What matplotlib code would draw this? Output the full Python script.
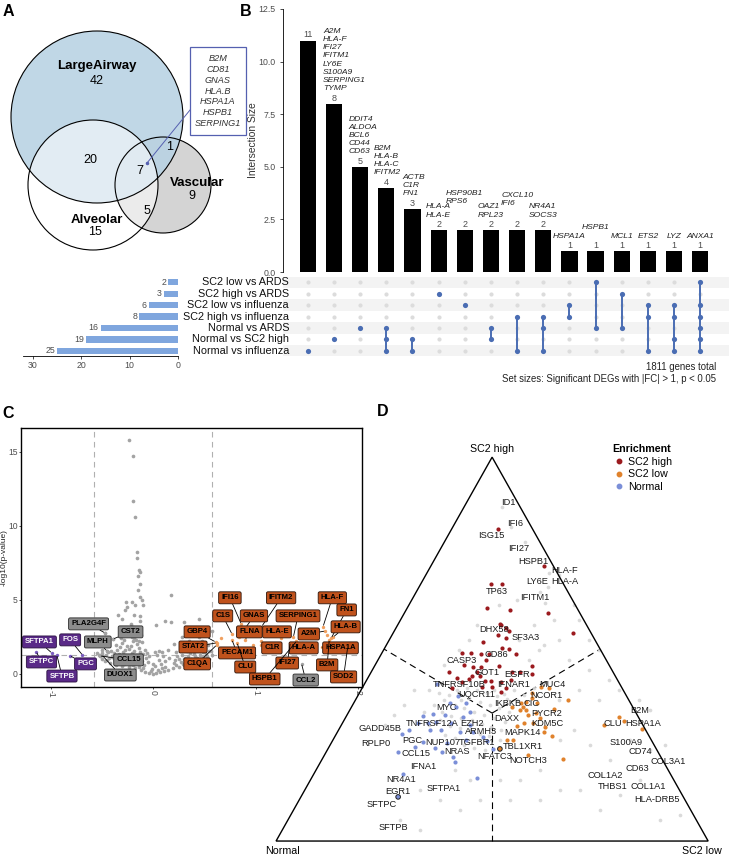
import matplotlib.pyplot as plt
import matplotlib.transforms as mtransforms
import numpy as np
from matplotlib.lines import Line2D
from matplotlib.patches import Circle, Polygon, Rectangle

plt.rcParams["font.family"] = ["Liberation Sans", "DejaVu Sans"]

W, H = 729, 857

# ---------------- A: Venn ----------------
venn_names = ["LargeAirway", "Alveolar", "Vascular"]
# LA only, Alv only, Vasc only, LA&Alv, LA&Vasc, Alv&Vasc, all three
venn_counts = [42, 15, 9, 20, 1, 5, 7]
venn_core_genes = ["B2M", "CD81", "GNAS", "HLA.B", "HSPA1A", "HSPB1", "SERPING1"]

# ---------------- B: UpSet ----------------
set_names = ["SC2 low vs ARDS", "SC2 high vs ARDS", "SC2 low vs influenza",
             "SC2 high vs influenza", "Normal vs ARDS", "Normal vs SC2 high",
             "Normal vs influenza"]
set_sizes = [2, 3, 6, 8, 16, 19, 25]
inter_sizes = [11, 8, 5, 4, 3, 2, 2, 2, 2, 2, 1, 1, 1, 1, 1, 1]
inter_members = [[6], [5], [4], [4, 5, 6], [5, 6], [1], [2], [4, 5], [3, 6],
                 [3, 4, 6], [2, 3], [0, 4], [1, 4], [2, 3, 6], [2, 3, 5, 6],
                 [0, 2, 3, 4, 5, 6]]
inter_genes = [
    [],
    ["A2M", "HLA-F", "IFI27", "IFITM1", "LY6E", "S100A9", "SERPING1", "TYMP"],
    ["DDIT4", "ALDOA", "BCL6", "CD44", "CD63"],
    ["B2M", "HLA-B", "HLA-C", "IFITM2"],
    ["ACTB", "C1R", "FN1"],
    ["HLA-A", "HLA-E"],
    ["HSP90B1", "RPS6"],
    ["OAZ1", "RPL23"],
    ["CXCL10", "IFI6"],
    ["NR4A1", "SOCS3"],
    ["HSPA1A"], ["HSPB1"], ["MCL1"], ["ETS2"], ["LYZ"], ["ANXA1"],
]
total_genes = 1811

# ---------------- C: volcano ----------------
bg_fc = [-0.04, 0.0, 0.03, 0.07, -0.08, 0.11, -0.12, 0.15, -0.02, 0.05,
         -0.18, -0.24, 0.19, 0.25, -0.30, 0.30, -0.14, 0.12, -0.36, 0.35,
         -0.42, -0.35, -0.28, -0.21, -0.15, 0.20, 0.27, 0.33, 0.40, 0.46, -0.47, 0.52,
         -0.50, -0.43, -0.37, -0.31, -0.25, -0.19, -0.13, -0.07, 0.0, 0.06, 0.25, 0.31,
         0.37, 0.43, 0.49, 0.55,
         -0.53, -0.46, -0.40, -0.33, -0.27, -0.21, -0.16, -0.10, -0.04, 0.04, 0.10,
         0.28, 0.34, 0.40, 0.46, 0.52, 0.58,
         -0.41, -0.35, -0.29, -0.24, -0.19, -0.14, -0.08, 0.06, 0.15, 0.33, 0.39,
         0.45, 0.51, 0.57,
         -0.36, -0.30, -0.25, -0.20, -0.16, -0.11, 0.20, 0.41, 0.48, 0.54,
         -0.31, -0.26, -0.21, -0.16, -0.12, 0.28, 0.50, 0.58,
         -0.28, -0.22, -0.17, -0.13, 0.03, 0.12, 0.17, 0.30, 0.45, -0.30, -0.19,
         -0.34, -0.13,
         -0.27, -0.25, -0.18, -0.10, -0.26, -0.21, -0.11, -0.13, 0.17, -0.15, -0.13,
         -0.15, -0.13, -0.14, -0.16, -0.16, -0.18, -0.20, -0.20, -0.24,
         -0.55, -0.50, -0.47, -0.39, -0.45, -0.52, -0.50,
         -0.45, -0.40, -0.35, -0.30, -0.26, -0.22, -0.17, -0.11, -0.09, -0.05, 0.02,
         0.08, 0.12, 0.16, 0.21, 0.23, 0.29, 0.35, 0.41, 0.47, 0.53, 0.44, -0.50,
         -0.44, -0.38, -0.32, -0.27, -0.22, -0.17, -0.13, -0.06, 0.02, 0.09, 0.22,
         0.27, 0.36, 0.43, 0.49, 0.55, -0.28, -0.23, -0.19, -0.14, -0.24, -0.20,
         -0.15, 0.35, 0.45, -0.01, 0.09, -0.10, -0.20, 0.22, 0.38, -0.38, -0.29, 0.30]
bg_p = [0.05, 0.02, 0.08, 0.12, 0.15, 0.20, 0.25, 0.28, 0.18, 0.30,
        0.38, 0.45, 0.40, 0.48, 0.55, 0.58, 0.50, 0.45, 0.62, 0.62,
        0.72, 0.78, 0.70, 0.82, 0.75, 0.72, 0.80, 0.76, 0.85, 0.78, 0.88, 0.90,
        1.00, 1.05, 0.97, 1.10, 1.02, 1.12, 0.98, 1.08, 0.70, 0.95, 1.00, 1.10,
        0.98, 1.06, 1.12, 1.02,
        1.25, 1.30, 1.22, 1.35, 1.28, 1.40, 1.24, 1.32, 1.20, 1.30, 1.22,
        1.30, 1.24, 1.36, 1.28, 1.34, 1.26,
        1.55, 1.65, 1.50, 1.70, 1.58, 1.75, 1.60, 1.52, 1.60, 1.55, 1.70,
        1.60, 1.75, 1.58,
        1.95, 2.10, 1.92, 2.20, 2.00, 2.15, 2.05, 2.00, 2.20, 1.95,
        2.45, 2.70, 2.50, 2.85, 2.60, 2.50, 2.60, 2.90,
        3.10, 3.35, 3.05, 3.60, 3.30, 3.60, 3.50, 3.50, 3.70, 3.70, 4.00,
        4.00, 3.90,
        4.30, 4.55, 4.65, 4.65, 4.85, 4.85, 5.00, 5.20, 5.30, 5.70, 6.10,
        6.60, 6.90, 7.00, 7.80, 8.20, 10.6, 11.7, 14.7, 15.8,
        1.40, 1.60, 2.77, 2.36, 1.55, 1.22, 1.28,
        0.95, 1.15, 0.90, 0.85, 0.95, 0.65, 0.90, 0.85, 0.60, 0.80, 0.55,
        0.70, 0.90, 1.05, 0.95, 1.20, 0.68, 0.88, 1.20, 0.95, 1.20, 0.70, 1.40,
        1.50, 1.40, 1.80, 1.62, 1.90, 2.30, 1.45, 1.40, 1.45, 1.50, 1.45,
        1.75, 1.40, 1.90, 1.48, 1.55, 2.30, 2.60, 2.40, 2.20, 3.00, 3.20,
        2.90, 2.20, 2.50, 0.35, 0.40, 0.38, 0.60, 0.60, 0.70, 1.05, 1.20, 1.00]
up_fc = [0.96, 0.98, 1.05, 1.70, 0.66, 1.25, 1.52]
up_p = [3.80, 1.96, 1.96, 2.60, 2.40, 2.45, 1.80]

vol_genes = ["IFI16", "IFITM2", "HLA-F", "C1S", "GNAS", "SERPING1", "FN1", "GBP4",
             "FLNA", "HLA-E", "A2M", "HLA-B", "STAT2", "PECAM1", "C1R", "HLA-A",
             "HSPA1A", "C1QA", "CLU", "IFI27", "B2M", "HSPB1", "CCL2", "SOD2",
             "PLA2G4F", "CST2", "MLPH", "CCL15", "DUOX1",
             "SFTPA1", "FOS", "SFTPC", "PGC", "SFTPB"]
vol_fc = [0.86, 1.06, 1.66, 0.77, 0.84, 1.37, 1.74, 0.61, 0.90, 1.33, 1.68, 1.76,
          0.62, 0.77, 1.05, 1.45, 1.65, 0.62, 0.82, 1.34, 1.72, 1.40, 1.45, 1.90,
          -0.47, -0.39, -0.45, -0.52, -0.50,
          -0.99, -0.69, -1.14, -0.81, -0.94]
vol_p = [3.38, 3.20, 3.20, 2.70, 2.50, 2.50, 2.43, 2.16, 2.30, 2.60, 2.90, 2.50,
         2.10, 2.30, 2.20, 2.10, 1.80, 1.95, 2.10, 2.10, 2.30, 2.20, 0.68, 1.80,
         2.77, 2.36, 1.55, 1.22, 1.28,
         1.42, 1.28, 1.49, 1.22, 1.28]
vol_group = ["up"] * 22 + ["ns", "up"] + ["ns"] * 5 + ["down"] * 5
# label box positions (layout, data units)
vol_lab_x = [0.75, 1.25, 1.75, 0.68, 0.985, 1.415, 1.89, 0.43, 0.94, 1.21, 1.52, 1.88,
             0.39, 0.82, 1.16, 1.47, 1.83, 0.43, 0.90, 1.31, 1.70, 1.09, 1.49, 1.86,
             -0.63, -0.22, -0.54, -0.24, -0.32, -1.11, -0.81, -1.09, -0.66, -0.89]
vol_lab_y = [5.14, 5.14, 5.14, 3.92, 3.92, 3.92, 4.32, 2.84, 2.84, 2.84, 2.70, 3.18,
             1.82, 1.42, 1.76, 1.76, 1.76, 0.68, 0.47, 0.74, 0.61, -0.34, -0.41, -0.20,
             3.38, 2.84, 2.16, 0.95, -0.07, 2.16, 2.30, 0.81, 0.68, -0.14]

# ---------------- D: ternary (share of SC2 high, share of SC2 low) ----------------
hi_h = [.716, .669, .669, .813, .602, .594, .542, .5625, .555, .536, .547, .529, .518,
        .503, .500, .490, .490, .487, .487, .487, .471, .458, .453, .453, .456, .456,
        .440, .440, .430, .430, .440, .440, .435, .424, .422, .417, .401, .414, .419,
        .401, .388, .398, .414, .398, .417, .607, .565]
hi_l = [.261, .162, .188, .106, .240, .332, .416, .239, .255, .246, .266, .268, .220,
        .272, .289, .186, .207, .231, .250, .312, .250, .206, .230, .248, .287, .365,
        .181, .246, .239, .258, .327, .345, .375, .207, .236, .274, .300, .314, .335,
        .275, .327, .334, .224, .209, .290, .184, .236]
lo_h = [.398, .401, .385, .372, .367, .359, .349, .341, .349, .328, .333, .344, .341,
        .307, .307, .297, .299, .284, .273, .263, .263, .224, .214, .302, .323, .3125,
        .292, .359, .320, .362]
lo_l = [.433, .413, .400, .407, .491, .388, .396, .409, .372, .418, .436, .472, .394,
        .421, .440, .475, .409, .479, .503, .404, .416, .470, .556, .609, .633, .650,
        .702, .425, .450, .398]
no_h = [.409, .378, .331, .326, .279, .232, .174, .164, .206, .219, .232, .258, .245,
        .289, .289, .307, .323, .336, .271, .260, .240, .263, .284, .310, .328, .349,
        .359, .289, .307, .307, .255, .242, .284, .359, .302]
no_l = [.169, .231, .197, .176, .151, .166, .206, .382, .311, .299, .267, .210, .198,
        .211, .238, .252, .270, .280, .343, .359, .381, .309, .313, .216, .226, .243,
        .261, .164, .174, .197, .269, .246, .283, .222, .297]
ringed_h = [.240, .115]
ringed_l = [.398, .225]
ringed_group = ["SC2 low", "Normal"]
gr_h = [.393, .385, .380, .367, .372, .362, .354, .346, .336, .367, .354, .346, .336,
        .328, .320, .310, .354, .336, .326, .320, .315, .305, .297, .289, .315, .299,
        .294, .289, .279, .273, .263, .336, .302, .276, .268, .250, .242, .237, .393,
        .398, .393, .385, .378, .370, .367, .393, .383, .393, .380, .398,
        .870, .818, .779, .698, .648, .661, .620, .693, .628, .615, .576, .523, .497,
        .523, .497, .471, .445, .419, .393, .393, .367, .367, .367, .341, .263, .211,
        .237, .250, .172, .133, .133, .185, .159, .107, .107, .081, .107, .133, .055,
        .029, .263, .289, .250, .120, .159, .081, .055, .068, .107, .159, .159, .185,
        .523, .5625, .471, .510, .576, .615, .523, .5625, .497, .458, .393, .354, .328,
        .302]
gr_l = [.158, .185, .211, .245, .261, .290, .317, .344, .372, .206, .236, .263, .291,
        .318, .345, .374, .189, .215, .243, .269, .295, .323, .350, .377, .221, .252,
        .278, .303, .332, .357, .386, .175, .204, .252, .279, .311, .338, .364, .223,
        .243, .269, .296, .323, .350, .375, .309, .337, .355, .384, .398,
        .089, .134, .186, .282, .286, .300, .312, .308, .244, .208, .413, .463, .499,
        .393, .360, .443, .502, .562, .598, .505, .472, .565, .657, .694, .687, .667,
        .746, .774, .663, .637, .590, .518, .485, .488, .418, .385, .326, .266, .259,
        .319, .525, .546, .601, .736, .762, .709, .861, .901, .557, .438, .369, .321,
        .301, .316, .350, .365, .355, .382, .185, .184, .175, .160, .123, .120, .110,
        .100]
tern_genes = ["ID1", "IFI6", "ISG15", "IFI27", "HSPB1", "HLA-F", "LY6E", "HLA-A", "TP63",
              "IFITM1", "DHX58", "SF3A3", "CD86", "CASP3", "GOT1", "EGFR", "TNFRSF10B",
              "IFNAR1", "MUC4", "UQCR11", "NCOR1", "IKBKB", "CIC", "MYC", "DAXX",
              "PYCR2", "TNFRSF12A", "EZH2", "KDM5C", "CLU", "B2M", "HSPA1A", "GADD45B",
              "ARMH3", "MAPK14", "PGC", "NUP107", "TGFBR1", "RPLP0", "S100A9",
              "TBL1XR1", "CCL15", "NRAS", "NFATC3", "CD74", "NOTCH3", "COL3A1", "IFNA1",
              "CD63", "COL1A2", "NR4A1", "SFTPA1", "THBS1", "COL1A1", "EGR1", "SFTPC",
              "HLA-DRB5", "SFTPB"]
# label positions (layout, as ternary shares)
tl_h = [.883, .828, .797, .763, .729, .706, .677, .677, .651, .635, .552, .529, .487,
        .471, .440, .435, .409, .409, .409, .383, .380, .359, .357, .349, .320, .331,
        .307, .307, .305, .307, .341, .307, .292, .286, .284, .263, .258, .258, .253,
        .258, .245, .227, .232, .221, .232, .211, .206, .195, .190, .172, .161, .138,
        .141, .141, .128, .094, .107, .036]
tl_l = [.096, .140, .100, .180, .231, .315, .265, .330, .185, .281, .228, .314, .266,
        .193, .269, .341, .220, .345, .435, .274, .435, .356, .413, .220, .375, .460,
        .208, .301, .476, .625, .670, .697, .094, .332, .428, .184, .256, .337, .104,
        .682, .448, .210, .302, .395, .726, .479, .804, .244, .740, .675, .208, .319,
        .709, .790, .218, .198, .828, .253]

# ---------------------------------------------------------------
fig = plt.figure(figsize=(W / 100, H / 100), dpi=100)


def px_axes(x0, y0, x1, y1):
    return fig.add_axes([x0 / W, 1 - y1 / H, (x1 - x0) / W, (y1 - y0) / H])


def panel_letter(letter, x, y):
    fig.text(x / W, 1 - y / H, letter, fontsize=11.5, fontweight="bold",
             ha="center", va="center")


GRAY_TXT = "#4d4d4d"

# ---------------- A ----------------
axA = px_axes(0, 0, 245, 262)
axA.set_xlim(0, 245)
axA.set_ylim(262, 0)
axA.axis("off")
circ_la, circ_alv, circ_vas = ((97, 117), 86), ((93, 185), 65), ((163, 185), 48)
axA.add_patch(Circle(*circ_vas, fc="#d4d4d4", ec="none"))
axA.add_patch(Circle(*circ_la, fc="#b8d2e3", ec="none", alpha=0.88))
axA.add_patch(Circle(*circ_alv, fc="white", ec="none", alpha=0.55))
for c in (circ_la, circ_alv, circ_vas):
    axA.add_patch(Circle(*c, fc="none", ec="black", lw=0.8))

name_pos = [(97, 66), (97, 220), (197, 183)]
for nm, (x, y) in zip(venn_names, name_pos):
    axA.text(x, y, nm, ha="center", va="center", fontsize=9.5, fontweight="bold")
count_pos = [(97, 81), (95, 232), (192, 196), (90, 160), (170, 147), (147, 211), (140, 171)]
for cnt, (x, y) in zip(venn_counts, count_pos):
    axA.text(x, y, str(cnt), ha="center", va="center", fontsize=9)
axA.add_patch(Rectangle((190, 47), 56, 88, fc="white", ec="#5560b0", lw=0.9,
                        clip_on=False))
axA.text(218, 91, "\n".join(venn_core_genes), ha="center", va="center",
         fontsize=6.6, style="italic", linespacing=1.28, color="#333333")
axA.plot([190, 147], [110, 163], color="#5560b0", lw=0.7)
axA.plot([147], [163], "o", ms=1.5, color="#5560b0")
panel_letter("A", 8, 11)

# ---------------- B ----------------
n_int = len(inter_sizes)
xcols = np.arange(n_int)
XL = (-0.95, 16.1)
axB = px_axes(283, 9, 729, 272)
axB.bar(xcols, inter_sizes, width=0.62, color="black")
axB.set_xlim(*XL)
axB.set_ylim(0, 12.5)
for s in ("top", "right", "bottom"):
    axB.spines[s].set_visible(False)
axB.spines["left"].set_linewidth(0.6)
axB.set_xticks([])
axB.set_yticks([0, 2.5, 5, 7.5, 10, 12.5])
axB.set_yticklabels(["0.0", "2.5", "5.0", "7.5", "10.0", "12.5"])
axB.tick_params(axis="y", labelsize=6.3, labelcolor=GRAY_TXT, length=2, width=0.5)
axB.set_ylabel("Intersection Size", fontsize=7.4, color="#333333")
axB.yaxis.set_label_coords((258 - 283) / 446, 0.5)
gene_dx = [0, 0.4, 0.1, 0.05, 0.05, 0, 0, 0, 0, 0, 0, 0, 0, 0, 0, 0]
gene_dy = [0, 0, 0, 0, 0, 0, 9.5, 0, 8, 0, 0, 6.5, 0, 0, 0, 0]
for i, (v, genes) in enumerate(zip(inter_sizes, inter_genes)):
    axB.annotate(str(v), (i, v), xytext=(0, 0.8), textcoords="offset points",
                 ha="center", va="bottom", fontsize=6.5, color=GRAY_TXT)
    if genes:
        axB.annotate("\n".join(genes), (i + gene_dx[i], v),
                     xytext=(0, 8.2 + gene_dy[i]), textcoords="offset points",
                     ha="center", va="bottom", multialignment="left",
                     fontsize=6.1, style="italic", linespacing=1.24, color="#222222")
panel_letter("B", 246, 11)

# matrix
n_set = len(set_names)
axM = px_axes(283, 276.5, 729, 356.5)
axM.set_xlim(*XL)
axM.set_ylim(n_set - 0.5, -0.5)
axM.axis("off")
for r in range(0, n_set, 2):
    axM.axhspan(r - 0.5, r + 0.5, color="#f3f3f3", lw=0, zorder=0)
gx, gy = np.meshgrid(xcols, np.arange(n_set))
axM.scatter(gx.ravel(), gy.ravel(), s=9, color="#dcdcdc", lw=0, zorder=1)
DOT = "#4a6db3"
for i, mem in enumerate(inter_members):
    if len(mem) > 1:
        axM.plot([i, i], [min(mem), max(mem)], color=DOT, lw=1.4, zorder=2)
    axM.scatter([i] * len(mem), mem, s=14, color=DOT, lw=0, zorder=3)
lab_tr = mtransforms.blended_transform_factory(fig.transFigure, axM.transData)
for r, nm in enumerate(set_names):
    axM.text(289 / W, r, nm, transform=lab_tr, ha="right", va="center",
             fontsize=7.8, color="#111111")

# set sizes
axS = px_axes(23.4, 276.5, 178, 356.5)
axS.barh(np.arange(n_set), set_sizes, height=0.55, color="#7fa6de")
axS.set_ylim(n_set - 0.5, -0.5)
axS.set_xlim(32, 0)
for s in ("top", "right", "left"):
    axS.spines[s].set_visible(False)
axS.spines["bottom"].set_linewidth(0.6)
axS.set_yticks([])
axS.set_xticks([30, 20, 10, 0])
axS.tick_params(axis="x", labelsize=6.3, labelcolor=GRAY_TXT, length=2, width=0.5, pad=1)
for r, v in enumerate(set_sizes):
    axS.annotate(str(v), (v, r), xytext=(-1.5, 0), textcoords="offset points",
                 ha="right", va="center", fontsize=6.3, color=GRAY_TXT)
fig.text(716 / W, 1 - 373 / H,
         f"{total_genes} genes total\nSet sizes: Significant DEGs with |FC| > 1, p < 0.05",
         ha="right", va="center", fontsize=6.9, color="#222222", linespacing=1.15,
         multialignment="right")

# ---------------- C ----------------
axC = px_axes(21, 428, 362, 687)
axC.set_xlim(-1.29, 2.04)
axC.set_ylim(-0.88, 16.6)
axC.axvline(-0.58, color="#b0b0b0", ls=(0, (5, 4)), lw=0.8, zorder=0)
axC.axvline(0.58, color="#b0b0b0", ls=(0, (5, 4)), lw=0.8, zorder=0)
axC.axhline(1.3, color="#b0b0b0", ls=(0, (5, 4)), lw=0.8, zorder=0)
axC.scatter(bg_fc, bg_p, s=7, color="#a3a3a3", lw=0, zorder=1)
axC.scatter(up_fc, up_p, s=6, color="#f0a060", lw=0, zorder=2)
grp_pt = {"up": "#f0a060", "ns": "#a3a3a3", "down": "#7b5cc0"}
grp_box = {"up": ("#c0521c", "#2a1208", "black"),
           "ns": ("#8c8c8c", "#2b2b2b", "black"),
           "down": ("#5a2a88", "#2a1040", "white")}
for g, fx, py, lx, ly, grp in zip(vol_genes, vol_fc, vol_p, vol_lab_x, vol_lab_y, vol_group):
    axC.scatter([fx], [py], s=6, color=grp_pt[grp], lw=0, zorder=2)
    fc, ec, tc = grp_box[grp]
    axC.annotate(g, (fx, py), xytext=(lx, ly), textcoords="data", ha="center",
                 va="center", fontsize=5.6, fontweight="bold", color=tc, zorder=4,
                 bbox=dict(boxstyle="round,pad=0.32,rounding_size=0.2", fc=fc, ec=ec, lw=0.6),
                 arrowprops=dict(arrowstyle="-", lw=0.6, color="black",
                                 shrinkA=0, shrinkB=1))
axC.set_xticks([-1, 0, 1, 2])
axC.set_xticklabels(["-1", "0", "1", "2"], rotation=-90)
axC.set_yticks([0, 5, 10, 15])
axC.tick_params(labelsize=6.2, labelcolor=GRAY_TXT, length=1.5, width=0.5, pad=0.8)
axC.set_ylabel("-log10(p-value)", fontsize=6.0, color="#222222")
axC.yaxis.set_label_coords((7.8 - 21) / 341, 0.5)
for s in axC.spines.values():
    s.set_linewidth(1.0)
panel_letter("C", 8, 413)

# ---------------- D ----------------
SQ3 = np.sqrt(3) / 2


def tern(h, l):
    h = np.asarray(h, float)
    l = np.asarray(l, float)
    return l + 0.5 * h, h * SQ3


axD = px_axes(232, 400, 725, 857)
axD.set_xlim(-0.102, 1.039)
axD.set_ylim(-0.036, 0.995)
axD.axis("off")
axD.add_patch(Polygon([(0, 0), (1, 0), (0.5, SQ3)], closed=True, fc="none",
                      ec="black", lw=1.0, zorder=5))
cx, cy = tern(1 / 3, 1 / 3)
for mh, ml in ((0.5, 0.0), (0.5, 0.5), (0.0, 0.5)):
    mx, my = tern(mh, ml)
    axD.plot([cx, mx], [cy, my], color="black", lw=0.8, ls=(0, (6, 4)), zorder=1)
x, y = tern(gr_h, gr_l)
axD.scatter(x, y, s=7, color="#d6d6d6", lw=0, alpha=0.9, zorder=2)
ENR = {"SC2 high": "#9b1a1e", "SC2 low": "#e0822c", "Normal": "#7b8fd8"}
for (hh, ll), key in (((hi_h, hi_l), "SC2 high"), ((lo_h, lo_l), "SC2 low"),
                      ((no_h, no_l), "Normal")):
    x, y = tern(hh, ll)
    axD.scatter(x, y, s=9, color=ENR[key], lw=0, zorder=3)
x, y = tern(ringed_h, ringed_l)
axD.scatter(x, y, s=11, color=[ENR[k] for k in ringed_group], edgecolor="#222222",
            lw=0.7, zorder=3)
x, y = tern(tl_h, tl_l)
for g, xx, yy in zip(tern_genes, x, y):
    axD.text(xx, yy, g, ha="center", va="center", fontsize=6.7, color="#1a1a1a", zorder=4)
vx, vy = tern([1, 0, 0], [0, 0, 1])
axD.text(vx[0], vy[0] + 0.008, "SC2 high", ha="center", va="bottom", fontsize=7.7)
axD.text(vx[1] + 0.015, vy[1] - 0.012, "Normal", ha="center", va="top", fontsize=7.7)
axD.text(vx[2] - 0.015, vy[2] - 0.012, "SC2 low", ha="center", va="top", fontsize=7.7)
handles = [Line2D([], [], marker="o", ls="", ms=3.2, color=ENR[k], label=k) for k in ENR]
leg = fig.legend(handles=handles, title="Enrichment", loc="upper left",
                 bbox_to_anchor=(612 / W, 1 - 444 / H), frameon=False, fontsize=7.7,
                 title_fontproperties={"weight": "bold", "size": 7.7},
                 handletextpad=0.1, handlelength=1.4, labelspacing=0.25,
                 borderaxespad=0, borderpad=0)
leg._legend_box.align = "left"
panel_letter("D", 383, 412)

fig.savefig("out.png", dpi=100)
